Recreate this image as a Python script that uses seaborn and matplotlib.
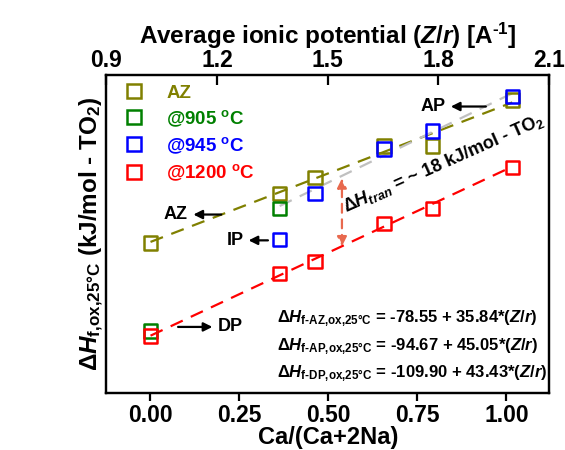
import numpy as np
import pandas as pd
import matplotlib
matplotlib.use("Agg")
import matplotlib.pyplot as plt
from matplotlib.lines import Line2D
from matplotlib.ticker import StrMethodFormatter
import seaborn as sns

# ---- data ----
series_names = ["AZ", "@905", "@945", "@1200"]
series_labels = ["AZ", r"@905 $^{\text{o}}$C", r"@945 $^{\text{o}}$C", r"@1200 $^{\text{o}}$C"]
series_colors = ["#808000", "#008000", "#0000FF", "#FF0000"]

az_x = [0.0, 0.362, 0.462, 0.656, 0.792, 1.017]
az_y = [-42.2, -29.8, -25.8, -17.9, -17.9, -6.3]
g905_x = [0.0, 0.362]
g905_y = [-64.4, -33.6]
b945_x = [0.362, 0.462, 0.656, 0.792, 1.017]
b945_y = [-41.4, -29.8, -18.6, -14.0, -5.4]
r1200_x = [0.0, 0.362, 0.462, 0.656, 0.792, 1.017]
r1200_y = [-65.7, -50.0, -46.9, -37.4, -33.6, -23.3]

# fit lines (given on the chart) over Z/r
fit_names = ["AZ", "AP", "DP"]
fit_intercept = [-78.55, -94.67, -109.90]
fit_slope = [35.84, 45.05, 43.43]
fit_zr_range = [(1.02, 2.0), (1.37, 2.0), (1.02, 2.0)]
fit_colors = ["#808000", "#C0C0C0", "#FF0000"]

bottom_ticks = [0.0, 0.25, 0.5, 0.75, 1.0]
top_ticks = [0.9, 1.2, 1.5, 1.8, 2.1]
y_ticks = [0, -20, -40, -60, -80]

sns.set_style("ticks")
plt.rcParams["font.family"] = ["Liberation Sans", "DejaVu Sans"]
plt.rcParams["font.weight"] = "bold"
plt.rcParams["axes.unicode_minus"] = False
plt.rcParams["text.color"] = "black"
plt.rcParams["axes.labelcolor"] = "black"
plt.rcParams["xtick.color"] = "black"
plt.rcParams["ytick.color"] = "black"
plt.rcParams["mathtext.fontset"] = "custom"
plt.rcParams["mathtext.rm"] = "Liberation Sans:bold"
plt.rcParams["mathtext.bf"] = "Liberation Sans:bold"
plt.rcParams["mathtext.it"] = "Liberation Sans:italic:bold"
plt.rcParams["mathtext.default"] = "it"

fig = plt.figure(figsize=(5.65, 4.5), dpi=100)
ax = fig.add_axes([0.188, 0.127, 0.784, 0.706])
ax2 = ax.twiny()
ax.set_zorder(2)
ax.patch.set_visible(False)
ax2.set_zorder(1)

# fit lines on the Z/r axis
for name, b0, b1, (z0, z1), c in zip(fit_names, fit_intercept, fit_slope, fit_zr_range, fit_colors):
    zr = np.array([z0, z1])
    df = pd.DataFrame({"zr": zr, "dh": b0 + b1 * zr})
    sns.lineplot(data=df, x="zr", y="dh", ax=ax2, color=c, lw=1.6,
                 linestyle=(0, (6, 4)), legend=False)

# points
point_sets = [(g905_x, g905_y, 1), (b945_x, b945_y, 2), (az_x, az_y, 0), (r1200_x, r1200_y, 3)]
for xs, ys, i in point_sets:
    sns.scatterplot(x=xs, y=ys, ax=ax, marker="s", s=95, facecolor="none",
                    edgecolor=series_colors[i], linewidth=1.8, zorder=3 + i, legend=False)

ax.set_xlim(-0.124, 1.12)
ax.set_ylim(-80, 0)
ax2.set_xlim(0.9, 2.1)
ax2.set_ylim(-80, 0)
ax.set_xticks(bottom_ticks)
ax.xaxis.set_major_formatter(StrMethodFormatter("{x:.2f}"))
ax.set_yticks(y_ticks)
ax2.set_xticks(top_ticks)
ax2.set_yticks([])

for a in (ax, ax2):
    for sp in a.spines.values():
        sp.set_linewidth(1.6)
        sp.set_color("black")
ax.tick_params(axis="both", direction="out", length=6, width=1.6, labelsize=16.5, pad=2)
ax.tick_params(axis="x", top=False)
ax2.tick_params(axis="x", direction="in", length=7, width=1.6, labelsize=16.5, pad=2)

ax.set_xlabel("Ca/(Ca+2Na)", fontsize=17, fontweight="bold", labelpad=-1)
ax.set_ylabel(r"$\Delta\mathit{H}_{\text{f,ox,25°C}}$ (kJ/mol - TO$_{\text{2}}$)",
              fontsize=17.5, fontweight="bold", labelpad=0)
ax2.set_xlabel(r"Average ionic potential ($\mathit{Z/r}$) [A$^{\text{-1}}$]",
               fontsize=17.5, fontweight="bold", labelpad=4)

# legend
handles = [Line2D([], [], linestyle="", marker="s", markersize=10, markerfacecolor="none",
                  markeredgecolor=c, markeredgewidth=1.8) for c in series_colors]
ax.legend(handles, series_labels, loc="upper left", frameon=False, fontsize=13.5,
          labelcolor="markeredgecolor", handletextpad=0.7, labelspacing=0.35,
          borderaxespad=0.1, bbox_to_anchor=(0.0, 1.0))

# arrows with labels
arrow_kw = dict(arrowstyle="-|>", color="black", lw=1.6, mutation_scale=13)
ax.annotate("", xy=(0.113, -35.1), xytext=(0.207, -35.1), arrowprops=arrow_kw)
ax.text(0.105, -35.1, "AZ", ha="right", va="center", fontsize=13, fontweight="bold")
ax.annotate("", xy=(0.268, -41.6), xytext=(0.338, -41.6), arrowprops=arrow_kw)
ax.text(0.262, -41.6, "IP", ha="right", va="center", fontsize=13, fontweight="bold")
ax.annotate("", xy=(0.182, -63.4), xytext=(0.07, -63.4), arrowprops=arrow_kw)
ax.text(0.19, -63.4, "DP", ha="left", va="center", fontsize=13, fontweight="bold")
ax.annotate("", xy=(0.836, -7.9), xytext=(0.95, -7.9), arrowprops=arrow_kw)
ax.text(0.83, -7.9, "AP", ha="right", va="center", fontsize=13, fontweight="bold")

# transition enthalpy double arrow
ax.annotate("", xy=(0.538, -25.3), xytext=(0.538, -43.8),
            arrowprops=dict(arrowstyle="<|-|>", color="#E8694E", lw=1.6,
                            linestyle=(0, (4, 3)), mutation_scale=14))
ax.text(0.556, -35.6, r"$\Delta$$\mathit{H}_{tran}$ = ~ 18 kJ/mol - TO$_{\text{2}}$",
        rotation=24, rotation_mode="anchor", ha="left", va="bottom",
        fontsize=13, fontweight="bold")

# fit equations
eq_y = [-61.3, -68.3, -75.1]
eq_tags = ["f-AZ,ox,25°C", "f-AP,ox,25°C", "f-DP,ox,25°C"]
for tag, b0, b1, yy in zip(eq_tags, fit_intercept, fit_slope, eq_y):
    txt = (r"$\Delta\mathit{H}_{\text{" + tag + r"}}$" +
           f" = {b0:.2f} + {b1:.2f}*(" + r"$\mathit{Z/r}$)")
    ax.text(0.357, yy, txt, ha="left", va="center", fontsize=12, fontweight="bold")

fig.savefig("out.png", dpi=100)
